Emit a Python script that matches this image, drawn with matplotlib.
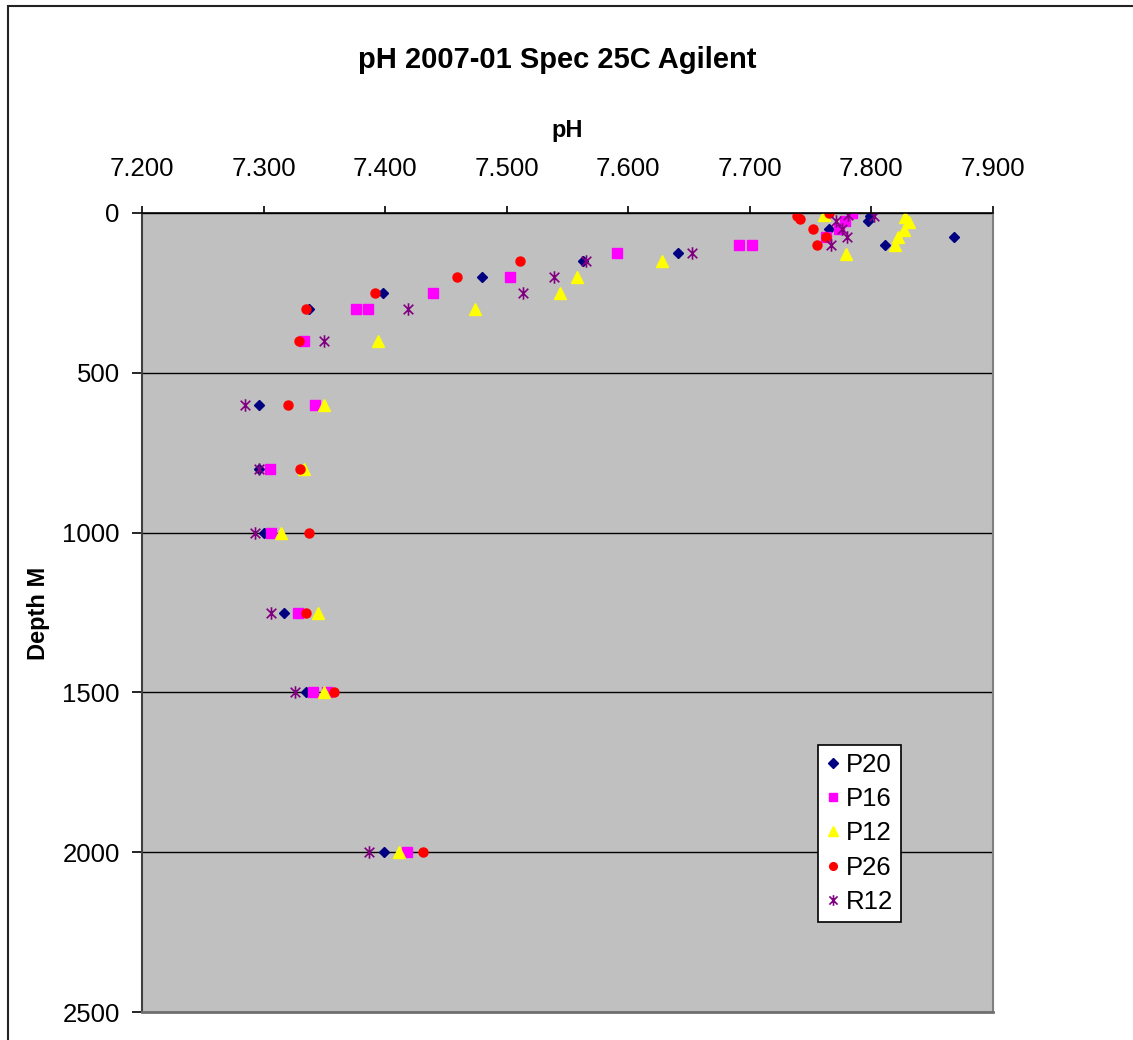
import matplotlib.pyplot as plt
import numpy as np
from matplotlib.path import Path
from matplotlib.patches import Rectangle
from matplotlib.ticker import FormatStrFormatter, MultipleLocator

plt.rcParams['font.family'] = ['Liberation Sans', 'DejaVu Sans']

# values
p20_ph = [7.799, 7.797, 7.765, 7.868, 7.811, 7.641, 7.563, 7.480, 7.398, 7.337,
          7.296, 7.296, 7.300, 7.317, 7.335, 7.399]
p20_depth = [10, 25, 50, 75, 100, 125, 150, 200, 250, 300,
             600, 800, 1000, 1250, 1500, 2000]

p16_ph = [7.784, 7.778, 7.773, 7.763, 7.691, 7.702, 7.591, 7.503, 7.439, 7.376, 7.386,
          7.333, 7.342, 7.305, 7.306, 7.328, 7.341, 7.352, 7.418]
p16_depth = [0, 25, 50, 75, 100, 100, 125, 200, 250, 300, 300,
             400, 600, 800, 1000, 1250, 1500, 1500, 2000]

p12_ph = [7.761, 7.828, 7.831, 7.827, 7.822, 7.819, 7.779, 7.628, 7.558, 7.544, 7.474,
          7.394, 7.350, 7.333, 7.314, 7.345, 7.350, 7.411]
p12_depth = [5, 13, 29, 53, 76, 101, 128, 150, 200, 250, 300,
             400, 600, 800, 1000, 1250, 1500, 2000]

p26_ph = [7.765, 7.739, 7.741, 7.752, 7.763, 7.755, 7.511, 7.459, 7.392, 7.335,
          7.329, 7.320, 7.330, 7.337, 7.335, 7.358, 7.431]
p26_depth = [0, 10, 20, 50, 75, 100, 150, 200, 250, 300,
             400, 600, 800, 1000, 1250, 1500, 2000]

r12_ph = [7.781, 7.802, 7.771, 7.776, 7.780, 7.767, 7.652, 7.565, 7.539, 7.513, 7.419,
          7.350, 7.285, 7.296, 7.293, 7.306, 7.326, 7.387]
r12_depth = [5, 10, 25, 50, 75, 100, 125, 150, 200, 250, 300,
             400, 600, 800, 1000, 1250, 1500, 2000]

# excel style star: X plus a vertical bar
star = Path([(-1, -1), (1, 1), (-1, 1), (1, -1), (0, -1.3), (0, 1.3)],
            [Path.MOVETO, Path.LINETO, Path.MOVETO, Path.LINETO, Path.MOVETO, Path.LINETO])

fig = plt.figure(figsize=(11.33, 10.4), dpi=100)
fig.patches.append(Rectangle((7.5/1133, -0.05), 1.1, 0.05 + 1 - 6/1040,
                             transform=fig.transFigure, fill=False,
                             edgecolor='#222222', linewidth=1.5))

ax = fig.add_axes([142/1133, 28/1040, 851/1133, 799/1040])
ax.set_facecolor('#C0C0C0')

ax.plot(p20_ph, p20_depth, 'D', color='#000080', ms=5.5, ls='none', label='P20')
ax.plot(p16_ph, p16_depth, 's', color='#FF00FF', ms=6.5, ls='none', label='P16')
ax.plot(p12_ph, p12_depth, '^', color='#FFFF00', ms=8, ls='none', label='P12')
ax.plot(p26_ph, p26_depth, 'o', color='#FF0000', ms=6.5, ls='none', label='P26')
ax.plot(r12_ph, r12_depth, marker=star, ls='none', ms=9, mfc='none',
        mec='#800080', mew=1.2, label='R12')

ax.set_xlim(7.2, 7.9)
ax.set_ylim(2500, 0)
ax.xaxis.tick_top()
ax.xaxis.set_major_locator(MultipleLocator(0.1))
ax.xaxis.set_major_formatter(FormatStrFormatter('%.3f'))
ax.yaxis.set_major_locator(MultipleLocator(500))
ax.tick_params(axis='x', direction='out', length=5, width=1.2, pad=18, labelsize=18.5)
ax.tick_params(axis='y', direction='out', length=7, width=1.2, pad=9, labelsize=18.5)
ax.grid(axis='y', color='black', linewidth=1)
ax.set_axisbelow(True)

ax.spines['top'].set_color('black')
ax.spines['top'].set_linewidth(1.2)
ax.spines['left'].set_color('#404040')
ax.spines['left'].set_linewidth(1.5)
ax.spines['bottom'].set_color('#707070')
ax.spines['bottom'].set_linewidth(2)
ax.spines['right'].set_color('#808080')
ax.spines['right'].set_linewidth(1.5)

fig.text(557/1133, 1 - 60/1040, 'pH 2007-01 Spec 25C Agilent', ha='center', va='center',
         fontsize=21, fontweight='bold')
fig.text(567/1133, 1 - 130/1040, 'pH', ha='center', va='center',
         fontsize=17, fontweight='bold')
fig.text(38/1133, 1 - 613/1040, 'Depth M', ha='center', va='center', rotation=90,
         fontsize=17, fontweight='bold')

leg = ax.legend(loc='upper left', bbox_to_anchor=(818/1133, 1 - 745/1040),
                bbox_transform=fig.transFigure, fontsize=18.5, frameon=True,
                fancybox=False, edgecolor='black', framealpha=1,
                handlelength=0.55, handletextpad=0.25, labelspacing=0.4,
                borderpad=0.3, borderaxespad=0, markerscale=0.85)
leg.get_frame().set_linewidth(1.2)

plt.savefig('out.png', dpi=100)
